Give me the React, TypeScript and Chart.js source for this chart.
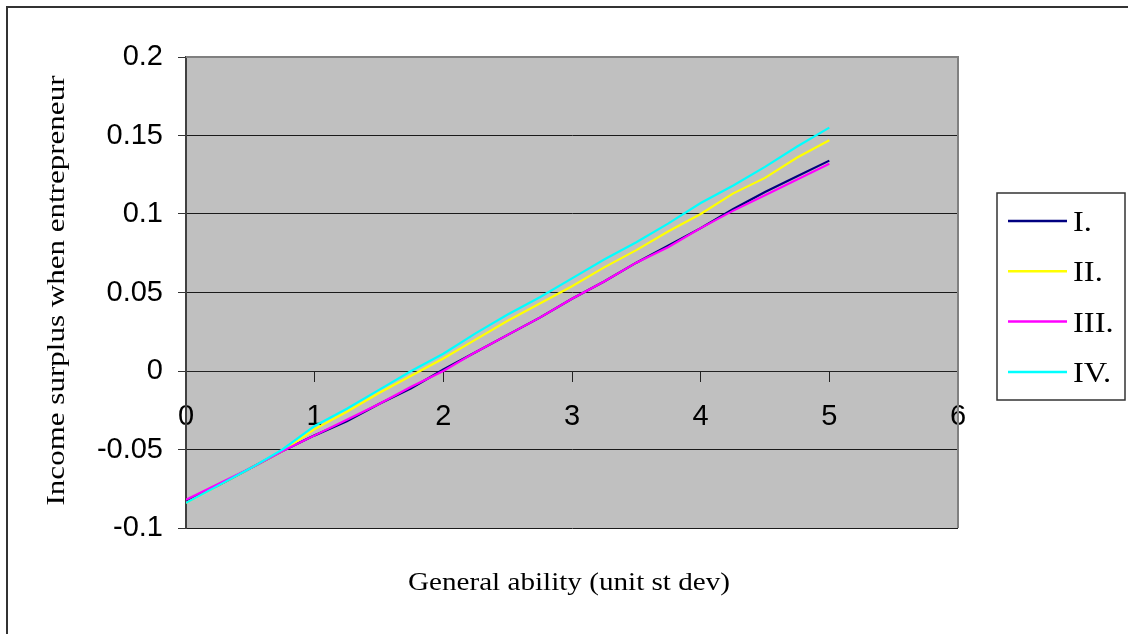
import React, { useEffect, useRef } from 'react';
import { Chart, registerables } from 'chart.js';

Chart.register(...registerables);

const xValues = [0, 0.25, 0.5, 0.75, 1, 1.25, 1.5, 1.75, 2, 2.25, 2.5, 2.75, 3, 3.25, 3.5, 3.75, 4, 4.25, 4.5, 4.75, 5];
const seriesI = [-0.083, -0.073, -0.062, -0.051, -0.041, -0.032, -0.021, -0.011, 0.001, 0.012, 0.023, 0.034, 0.046, 0.057, 0.069, 0.080, 0.091, 0.103, 0.114, 0.124, 0.134];
const seriesII = [-0.084, -0.073, -0.062, -0.051, -0.037, -0.026, -0.014, -0.003, 0.008, 0.020, 0.032, 0.043, 0.054, 0.066, 0.077, 0.089, 0.100, 0.113, 0.123, 0.136, 0.147];
const seriesIII = [-0.082, -0.072, -0.062, -0.051, -0.041, -0.031, -0.021, -0.010, 0.000, 0.012, 0.023, 0.034, 0.046, 0.057, 0.069, 0.079, 0.091, 0.102, 0.112, 0.122, 0.132];
const seriesIV = [-0.084, -0.073, -0.062, -0.050, -0.035, -0.024, -0.012, 0.000, 0.011, 0.024, 0.036, 0.047, 0.059, 0.071, 0.082, 0.094, 0.107, 0.118, 0.130, 0.143, 0.155];

const seriesNames = ['I.', 'II.', 'III.', 'IV.'];
const seriesColors = ['#000080', '#FFFF00', '#FF00FF', '#00FFFF'];
const yTickLabels = ['-0.1', '-0.05', '0', '0.05', '0.1', '0.15', '0.2'];
const xTickLabels = ['0', '1', '2', '3', '4', '5', '6'];
const xTitle = 'General ability (unit st dev)';
const yTitle = 'Income surplus when entrepreneur';

const SERIF = '"Liberation Serif", "Times New Roman", serif';
const SANS = '"Liberation Sans", Arial, sans-serif';

function drawFitted(ctx: CanvasRenderingContext2D, text: string, x: number, y: number, targetW: number, rotate: boolean) {
  const w = ctx.measureText(text).width;
  const s = targetW / w;
  ctx.save();
  ctx.translate(x, y);
  if (rotate) ctx.rotate(-Math.PI / 2);
  ctx.scale(s, 1);
  ctx.textAlign = 'center';
  ctx.textBaseline = 'alphabetic';
  ctx.fillText(text, 0, 0);
  ctx.restore();
}

const framePlugin = {
  id: 'excelFrame',
  beforeDraw(chart: any) {
    const { ctx, chartArea: a } = chart;
    ctx.save();
    ctx.fillStyle = '#ffffff';
    ctx.fillRect(0, 0, chart.width, chart.height);
    ctx.fillStyle = '#C0C0C0';
    ctx.fillRect(a.left, a.top, a.right - a.left, a.bottom - a.top);
    ctx.restore();
  },
  afterDraw(chart: any) {
    const { ctx, chartArea: a } = chart;
    ctx.save();
    // plot area border (top & right)
    ctx.strokeStyle = '#808080';
    ctx.lineWidth = 2;
    ctx.beginPath();
    ctx.moveTo(a.left, a.top);
    ctx.lineTo(a.right, a.top);
    ctx.lineTo(a.right, a.bottom);
    ctx.stroke();

    // outer frame
    ctx.strokeStyle = '#333333';
    ctx.lineWidth = 2;
    ctx.beginPath();
    ctx.moveTo(7, chart.height);
    ctx.lineTo(7, 7);
    ctx.lineTo(chart.width, 7);
    ctx.stroke();

    // titles
    ctx.fillStyle = '#000000';
    ctx.font = `25px ${SERIF}`;
    drawFitted(ctx, xTitle, (a.left + a.right) / 2 - 3, 590, 322, false);
    drawFitted(ctx, yTitle, 64, (a.top + a.bottom) / 2 - 2, 430, true);

    // legend
    const lx = 997, ly = 193, lw = 128, lh = 207;
    ctx.fillStyle = '#ffffff';
    ctx.fillRect(lx, ly, lw, lh);
    ctx.strokeStyle = '#333333';
    ctx.lineWidth = 1.5;
    ctx.strokeRect(lx, ly, lw, lh);
    ctx.font = `29px ${SERIF}`;
    chart.data.datasets.forEach((ds: any, i: number) => {
      const y = 221 + i * 50.3;
      ctx.strokeStyle = ds.borderColor;
      ctx.lineWidth = 2.5;
      ctx.beginPath();
      ctx.moveTo(1008, y);
      ctx.lineTo(1067, y);
      ctx.stroke();
      ctx.fillStyle = '#000000';
      ctx.textAlign = 'left';
      ctx.textBaseline = 'alphabetic';
      ctx.save();
      ctx.translate(1073, y + 10);
      ctx.scale(1.12, 1);
      ctx.fillText(ds.label, 0, 0);
      ctx.restore();
    });
    ctx.restore();
  },
};

export default function App() {
  const ref = useRef<HTMLCanvasElement | null>(null);

  useEffect(() => {
    const canvas = ref.current;
    if (!canvas) return;
    const allSeries = [seriesI, seriesII, seriesIII, seriesIV];
    const chart = new Chart(canvas, {
      type: 'line',
      data: {
        datasets: allSeries.map((vals, i) => ({
          label: seriesNames[i],
          data: xValues.map((x, j) => ({ x, y: vals[j] })),
          borderColor: seriesColors[i],
          backgroundColor: seriesColors[i],
          borderWidth: 2.2,
          pointRadius: 0,
          tension: 0,
          fill: false,
          order: 4 - i,
        })),
      },
      options: {
        animation: false,
        responsive: false,
        devicePixelRatio: 1,
        layout: { padding: { left: 0, top: 57, right: 170, bottom: 106 } },
        plugins: { legend: { display: false }, tooltip: { enabled: false }, title: { display: false } },
        scales: {
          x: {
            type: 'linear',
            position: { y: 0 } as any,
            min: 0,
            max: 6,
            afterFit: (s: any) => { s.height = 0; },
            ticks: {
              stepSize: 1,
              padding: 19,
              color: '#000000',
              font: { family: SANS, size: 29 },
              maxRotation: 0,
              autoSkip: false,
              callback: (_v: any, i: number) => xTickLabels[i],
            },
            grid: { drawOnChartArea: false, drawTicks: true, tickLength: 10, color: '#222222', lineWidth: 1 },
            border: { display: true, color: '#222222', width: 1 },
          },
          y: {
            type: 'linear',
            min: -0.1,
            max: 0.2,
            afterFit: (s: any) => { s.width = 186; },
            ticks: {
              stepSize: 0.05,
              padding: 15,
              color: '#000000',
              font: { family: SANS, size: 29 },
              callback: (_v: any, i: number) => yTickLabels[i],
            },
            grid: { color: '#1a1a1a', lineWidth: 1, drawTicks: true, tickLength: 8, tickColor: '#333333' },
            border: { display: true, color: '#404040', width: 2 },
          },
        },
      },
      plugins: [framePlugin],
    });
    return () => chart.destroy();
  }, []);

  return (
    <canvas
      ref={ref}
      width={1128}
      height={634}
      style={{ position: 'fixed', left: 0, top: 0, width: 1128, height: 634 }}
    />
  );
}
